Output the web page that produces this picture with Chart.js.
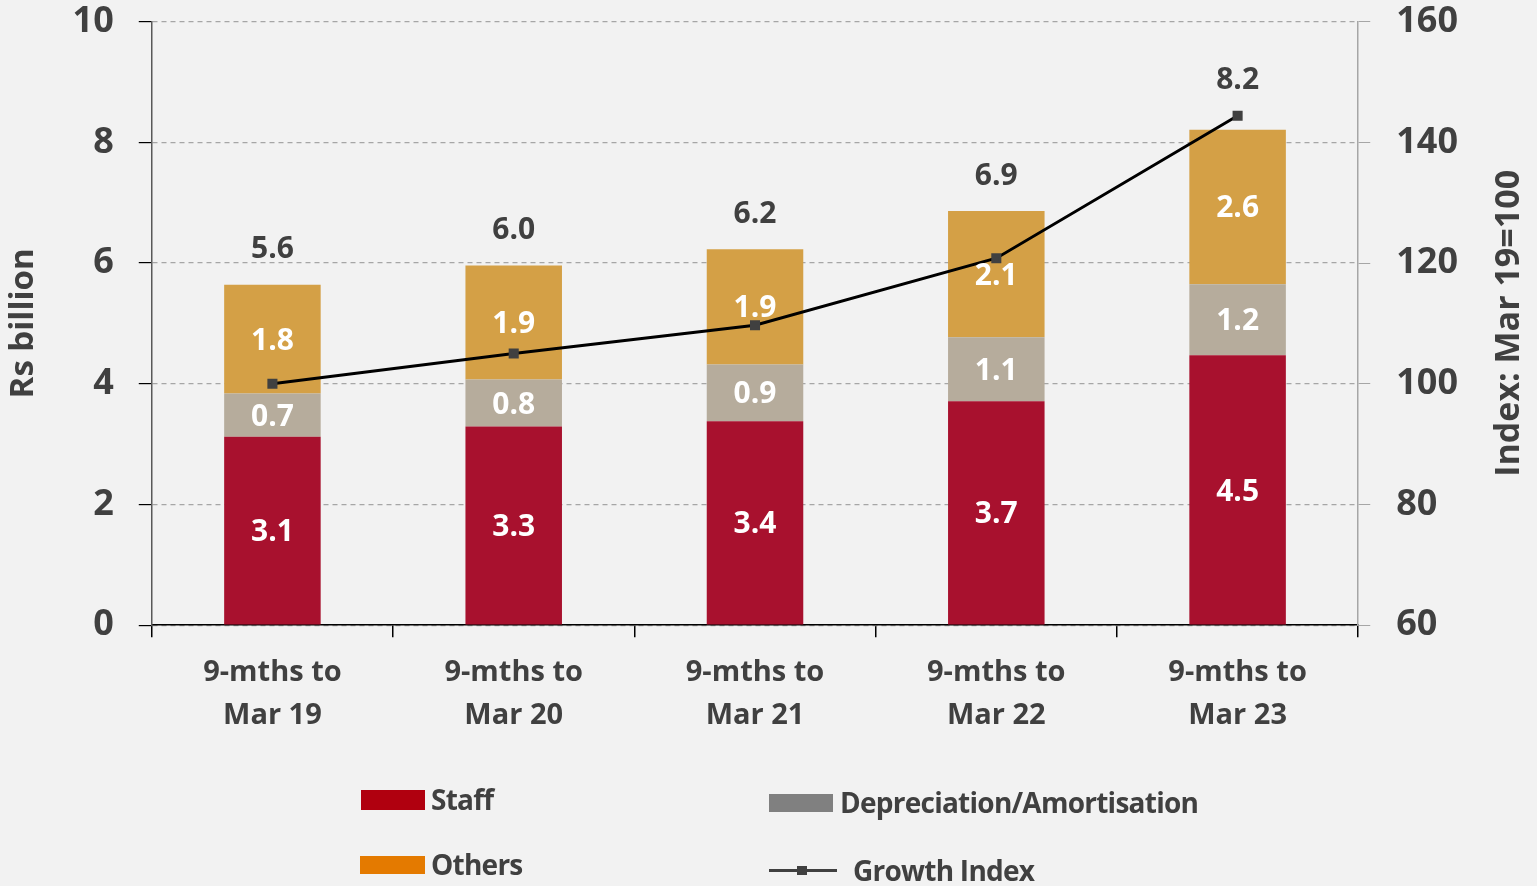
<!DOCTYPE html>
<html>
<head>
<meta charset="utf-8">
<script src="https://cdn.jsdelivr.net/npm/chart.js@4.4.0/dist/chart.umd.min.js"></script>
<style>
  body{margin:0;background:#F2F2F2;}
  #wrap{position:relative;width:1537px;height:886px;background:#F2F2F2;overflow:hidden;}
  #myChart{position:absolute;left:0;top:-26px;}
  .lg{position:absolute;font-family:"Open Sans",sans-serif;font-weight:700;font-size:28px;color:#404040;letter-spacing:-0.75px;}
  .sw{position:absolute;}
</style>
</head>
<body>
<div id="wrap">
  <canvas id="myChart" width="1537" height="912"></canvas>
  <div class="sw" style="left:361px;top:790px;width:64px;height:20px;background:#B0000F"></div>
  <div class="lg" style="left:431px;top:780px;">Staff</div>
  <div class="sw" style="left:769px;top:794px;width:64px;height:18px;background:#808080"></div>
  <div class="lg" style="left:840px;top:783px;">Depreciation/Amortisation</div>
  <div class="sw" style="left:360px;top:856px;width:65px;height:18px;background:#E47A00"></div>
  <div class="lg" style="left:431px;top:845px;">Others</div>
  <div class="sw" style="left:769px;top:869px;width:68px;height:3px;background:#404040"></div>
  <div class="sw" style="left:797px;top:866px;width:10px;height:9px;background:#404040"></div>
  <div class="lg" style="left:853px;top:851px;">Growth Index</div>
</div>
<script>
let categories=[['9-mths to','Mar 19'],['9-mths to','Mar 20'],['9-mths to','Mar 21'],['9-mths to','Mar 22'],['9-mths to','Mar 23']];
let staff=[3.12,3.29,3.38,3.71,4.47];
let depreciation=[0.72,0.78,0.94,1.06,1.18];
let others=[1.80,1.89,1.91,2.09,2.56];
let growthIndex=[100,105,109.7,120.8,144.4];

let textColor='#404040';
let font='"Open Sans", sans-serif';

// labels inside the segments, totals on top, right axis title
let labelPlugin={
  id:'labelPlugin',
  afterDatasetsDraw(chart){
    let ctx=chart.ctx;
    ctx.save();
    ctx.textAlign='center';
    ctx.textBaseline='middle';
    ctx.font='bold 30px '+font;
    for(let d=0; d<3; d++){
      let meta=chart.getDatasetMeta(d);
      meta.data.forEach(function(bar,i){
        let v=chart.data.datasets[d].data[i];
        ctx.fillStyle='#ffffff';
        ctx.fillText(v.toFixed(1),bar.x,(bar.y+bar.base)/2+2);
      });
    }
    let topMeta=chart.getDatasetMeta(2);
    let lineMeta=chart.getDatasetMeta(3);
    for(let i=0;i<categories.length;i++){
      let total=staff[i]+depreciation[i]+others[i];
      let top=Math.min(topMeta.data[i].y,lineMeta.data[i].y);
      ctx.fillStyle=textColor;
      ctx.fillText(total.toFixed(1),topMeta.data[i].x,top-35);
    }
    // right axis title reads bottom to top
    let area=chart.chartArea;
    ctx.translate(1509,(area.top+area.bottom)/2);
    ctx.rotate(-Math.PI/2);
    ctx.font='bold 34px '+font;
    ctx.fillText('Index: Mar 19=100',0,0);
    ctx.restore();
  }
};

let ctx=document.getElementById('myChart').getContext('2d');
let chart=new Chart(ctx,{
  type:'bar',
  data:{
    labels:categories,
    datasets:[
      {label:'Staff',data:staff,backgroundColor:'#A8112E',yAxisID:'y',order:2},
      {label:'Depreciation/Amortisation',data:depreciation,backgroundColor:'#B6AC9C',yAxisID:'y',order:2},
      {label:'Others',data:others,backgroundColor:'#D4A046',yAxisID:'y',order:2},
      {type:'line',label:'Growth Index',data:growthIndex,borderColor:'#000000',borderWidth:3,
       pointStyle:'rect',pointRadius:5,pointBackgroundColor:'#404040',pointBorderColor:'#404040',
       yAxisID:'y1',order:1,tension:0}
    ]
  },
  options:{
    responsive:false,
    animation:false,
    layout:{padding:{top:0,left:0,right:53,bottom:135}},
    plugins:{legend:{display:false},tooltip:{enabled:false}},
    datasets:{bar:{barPercentage:0.4,categoryPercentage:1}},
    scales:{
      x:{
        stacked:true,
        offset:true,
        grid:{offset:true,drawOnChartArea:false,color:'#000000',tickLength:12,lineWidth:1.5},
        border:{color:'#000000',width:1.5},
        ticks:{color:textColor,font:{family:font,size:29,weight:'bold',lineHeight:1.48},padding:14,maxRotation:0}
      },
      y:{
        stacked:true,
        min:0,max:10,
        position:'left',
        ticks:{stepSize:2,color:textColor,font:{family:font,size:36,weight:'bold'},padding:25},
        grid:{color:'#A6A6A6',tickColor:'#000000',tickLength:13,lineWidth:1.2},
        border:{color:'#595959',width:1.5,dash:[5,4]},
        title:{display:true,text:'Rs billion',color:textColor,font:{family:font,size:33,weight:'bold'},padding:{top:4,bottom:4}}
      },
      y1:{
        min:60,max:160,
        position:'right',
        ticks:{stepSize:20,color:textColor,font:{family:font,size:36,weight:'bold'},padding:26},
        grid:{drawOnChartArea:false,color:'#A6A6A6',tickLength:12},
        border:{color:'#A6A6A6',width:1.5}
      }
    }
  },
  plugins:[labelPlugin]
});
</script>
</body>
</html>
